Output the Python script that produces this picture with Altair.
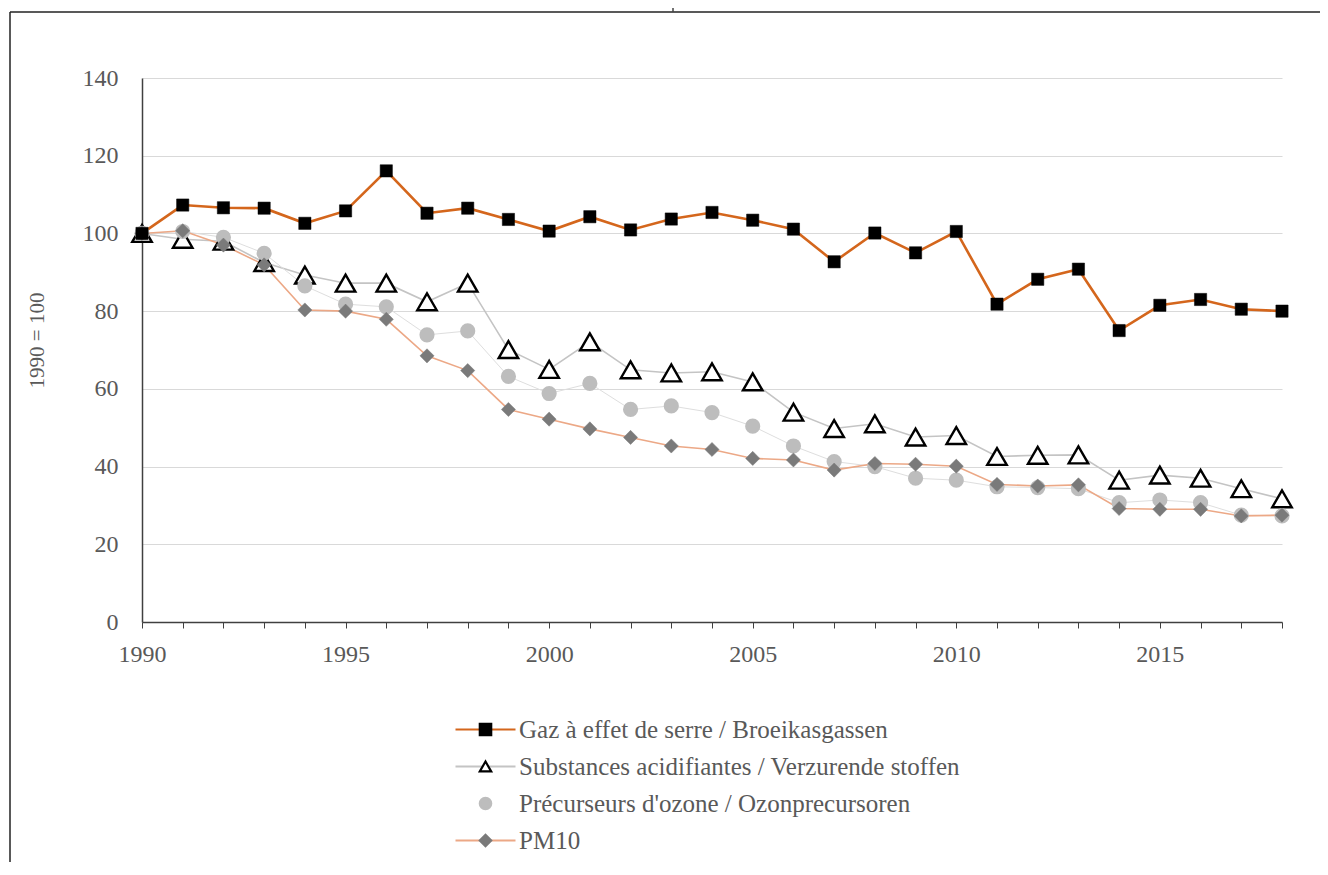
import altair as alt
import pandas as pd

years = list(range(1990, 2019))
series_names = [
    "Gaz à effet de serre / Broeikasgassen",
    "Substances acidifiantes / Verzurende stoffen",
    "Précurseurs d'ozone / Ozonprecursoren",
    "PM10",
]
ghg = [100, 107.3, 106.6, 106.5, 102.6, 105.8, 116.1, 105.2, 106.5, 103.6,
       100.6, 104.3, 100.9, 103.7, 105.4, 103.4, 101.1, 92.7, 100.1, 95.0,
       100.5, 81.8, 88.2, 90.8, 75.0, 81.5, 83.0, 80.5, 80.0]
acid = [100, 98.5, 98.0, 92.5, 89.3, 87.2, 87.2, 82.4, 87.2, 70.1,
        65.0, 72.1, 64.9, 64.1, 64.4, 61.8, 54.0, 49.8, 51.0, 47.6,
        48.0, 42.6, 42.9, 43.0, 36.5, 37.8, 37.0, 34.3, 31.7]
ozone = [100, 100.5, 99.0, 94.9, 86.5, 81.8, 81.1, 73.9, 74.9, 63.2,
         58.8, 61.4, 54.7, 55.6, 53.9, 50.4, 45.3, 41.3, 40.0, 37.0,
         36.5, 34.8, 34.6, 34.3, 30.7, 31.4, 30.7, 27.5, 27.3]
pm10 = [100, 100.7, 97.0, 91.9, 80.3, 80.0, 77.9, 68.5, 64.7, 54.7,
        52.2, 49.7, 47.5, 45.3, 44.4, 42.1, 41.7, 39.1, 40.8, 40.6,
        40.1, 35.4, 35.0, 35.3, 29.2, 29.0, 29.0, 27.3, 27.5]
marker_keys = ["m1", "m2", "m3", "m4"]

FONT = "Liberation Serif"
TXT = "#595959"
LEG_FS = 25

values = {series_names[0]: ghg, series_names[1]: acid,
          series_names[2]: ozone, series_names[3]: pm10}
rows = []
for i, name in enumerate(series_names):
    for y, v in zip(years, values[name]):
        rows.append({"year": y, "value": v, "series": name, "mk": marker_keys[i]})
df = pd.DataFrame(rows)

x_enc = alt.X("year:Q", scale=alt.Scale(domain=[1990, 2018], nice=False, zero=False),
              axis=alt.Axis(values=years, labelExpr="datum.value % 5 === 0 ? datum.value : ''",
                            title=None, grid=False, ticks=True, tickSize=6, tickColor="#404040",
                            domainColor="#404040", domainWidth=1.5, labelFont=FONT,
                            labelFontSize=24, labelColor=TXT, labelPadding=14,
                            labelFlush=False, labelOverlap=False))
y_enc = alt.Y("value:Q", scale=alt.Scale(domain=[0, 140], nice=False),
              axis=alt.Axis(values=list(range(0, 141, 20)), title="1990 = 100",
                            titleFont=FONT, titleFontSize=21, titleFontWeight="normal",
                            titleColor=TXT, titleX=-105, titleY=262, titleAngle=-90,
                            titleAlign="center", titleBaseline="middle",
                            grid=True, gridColor="#D9D9D9", gridWidth=1,
                            ticks=False, tickSize=0, domainColor="#404040", domainWidth=1.5,
                            labelFont=FONT, labelFontSize=24, labelColor=TXT,
                            labelPadding=24))

line_colors = ["#D4661C", "#C4C4C4", "transparent", "#ECA886"]
color_scale = alt.Scale(domain=series_names, range=line_colors)
color_legend = alt.Legend(orient="none", legendX=331, legendY=639, title=None,
                          symbolType="M-3,0H3", symbolSize=400, symbolStrokeWidth=2,
                          labelFont=FONT, labelFontSize=LEG_FS, labelColor=TXT,
                          labelFontWeight="normal",
                          labelOffset=21, rowPadding=11, padding=0, labelLimit=700)

shape_scale = alt.Scale(domain=marker_keys, range=["square", "triangle-up", "circle", "diamond"])
fill_scale = alt.Scale(domain=marker_keys, range=["#000000", "#FFFFFF", "#BDBDBD", "#7A7A7A"])
stroke_scale = alt.Scale(domain=marker_keys, range=["#000000", "#000000", "#BDBDBD", "#7A7A7A"])
mk_legend = alt.Legend(orient="none", legendX=331, legendY=639, title=None,
                       symbolSize=130, symbolStrokeWidth=2.2,
                       labelFont=FONT, labelFontSize=LEG_FS, labelExpr="''",
                       labelOffset=21, rowPadding=11, padding=0)

base = alt.Chart(df)

# draw order: acid, ozone, pm10, ghg (ghg on top)
line_specs = [(1, 1.6, None), (2, 1.0, "#DEDEDE"), (3, 1.6, None), (0, 2.6, None)]
point_specs = [(1, 380, 2.4), (2, 230, 0), (3, 200, 0.5), (0, 150, 0.5)]

layers = []
for idx, sw, fixed in line_specs:
    name = series_names[idx]
    if fixed:
        lyr = base.transform_filter(alt.datum.series == name).mark_line(
            strokeWidth=sw, color=fixed).encode(x=x_enc, y=y_enc)
    else:
        lyr = base.transform_filter(alt.datum.series == name).mark_line(
            strokeWidth=sw).encode(
            x=x_enc, y=y_enc,
            color=alt.Color("series:N", scale=color_scale, legend=color_legend))
    layers.append(lyr)

for idx, size, sw in point_specs:
    name = series_names[idx]
    lyr = base.transform_filter(alt.datum.series == name).mark_point(
        filled=True, size=size, strokeWidth=sw, opacity=1).encode(
        x=x_enc, y=y_enc,
        shape=alt.Shape("mk:N", scale=shape_scale, legend=mk_legend),
        fill=alt.Fill("mk:N", scale=fill_scale, legend=mk_legend),
        stroke=alt.Stroke("mk:N", scale=stroke_scale, legend=mk_legend))
    layers.append(lyr)

# page frame lines (decorative)
frame_top = alt.Chart(pd.DataFrame({"a": [0]})).mark_rule(color="#222222", strokeWidth=1.5).encode(
    x=alt.value(-132), x2=alt.value(1200), y=alt.value(-66))
frame_left = alt.Chart(pd.DataFrame({"a": [0]})).mark_rule(color="#222222", strokeWidth=1.5).encode(
    x=alt.value(-132), y=alt.value(-66), y2=alt.value(800))
frame_tick = alt.Chart(pd.DataFrame({"a": [0]})).mark_rule(color="#444444", strokeWidth=1.5).encode(
    x=alt.value(531), y=alt.value(-72), y2=alt.value(-66))

chart = alt.layer(*layers, frame_top, frame_left, frame_tick).resolve_legend(
    color="shared", shape="shared", fill="shared", stroke="shared"
).properties(
    width=1140, height=544,
    autosize=alt.AutoSizeParams(type="none"),
    padding={"left": 134, "top": 70, "right": 38, "bottom": 240},
    background="white",
).configure_view(stroke=None).configure_axis(
    titleFont=FONT, labelFont=FONT
).configure_legend(labelFont=FONT)

chart.save("out.html", embed_options={"renderer": "svg", "actions": False})
